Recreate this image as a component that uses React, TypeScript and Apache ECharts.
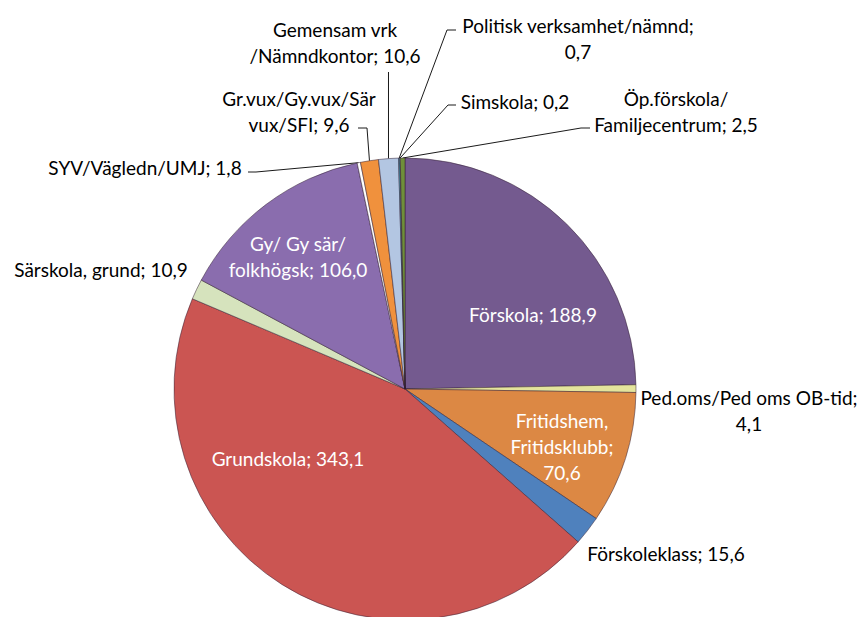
import React, { useEffect, useRef } from "react";
import * as echarts from "echarts";

const categories = [
  "Förskola",
  "Ped.oms/Ped oms OB-tid",
  "Fritidshem, Fritidsklubb",
  "Förskoleklass",
  "Grundskola",
  "Särskola, grund",
  "Gy/ Gy sär/ folkhögsk",
  "SYV/Vägledn/UMJ",
  "Gr.vux/Gy.vux/Sär vux/SFI",
  "Gemensam vrk /Nämndkontor",
  "Politisk verksamhet/nämnd",
  "Simskola",
  "Öp.förskola/ Familjecentrum",
];

const values = [188.9, 4.1, 70.6, 15.6, 343.1, 10.9, 106.0, 1.8, 9.6, 10.6, 0.7, 0.2, 2.5];

// label text as wrapped in the reference
const wrappedNames = [
  "Förskola",
  "Ped.oms/Ped oms OB-tid;\n",
  "Fritidshem,\nFritidsklubb;\n",
  "Förskoleklass",
  "Grundskola",
  "Särskola, grund",
  "Gy/ Gy sär/\nfolkhögsk",
  "SYV/Vägledn/UMJ",
  "Gr.vux/Gy.vux/Sär\nvux/SFI",
  "Gemensam vrk\n/Nämndkontor",
  "Politisk verksamhet/nämnd;\n",
  "Simskola",
  "Öp.förskola/\nFamiljecentrum",
];

const colors = [
  "#745a8f",
  "#e4e49c",
  "#dc8844",
  "#4f81bd",
  "#cb5552",
  "#d6e3bd",
  "#8a6dae",
  "#ffffff",
  "#f0913d",
  "#b3c6e2",
  "#4bacc6",
  "#f2f2f2",
  "#6f8f3a",
];

// label placement (style): centre of text block, inside flag, leader line tail points
const placements: { x: number; y: number; inside?: boolean; line?: number[][] }[] = [
  { x: 533, y: 314, inside: true },
  { x: 749, y: 410 },
  { x: 562, y: 446, inside: true },
  { x: 666, y: 553 },
  { x: 288, y: 458, inside: true },
  { x: 101, y: 269 },
  { x: 298, y: 256, inside: true },
  { x: 145, y: 167, line: [[256, 172], [248, 172]] },
  { x: 299, y: 111, line: [[367, 128], [358, 128]] },
  { x: 335, y: 42, line: [[-1, 72], [-1, 72]] },
  { x: 578, y: 38, line: [[447, 30], [456, 30]] },
  { x: 515, y: 101, line: [[448, 105], [456, 105]] },
  { x: 676, y: 111, line: [[581, 128], [590, 128]] },
];

const fmt = (v: number) => v.toFixed(1).replace(".", ",");

export default function App() {
  const ref = useRef<HTMLDivElement>(null);
  useEffect(() => {
    document.body.style.margin = "0";
    const chart = echarts.init(ref.current!, undefined, { renderer: "svg" });
    const data = categories.map((name, i) => {
      const p = placements[i];
      return {
        name,
        value: values[i],
        itemStyle: { color: colors[i] },
        label: {
          position: p.inside ? "inside" : "outside",
          color: p.inside ? "#ffffff" : "#000000",
        },
        labelLine: { show: !!p.line },
      };
    });
    chart.setOption({
      animation: false,
      backgroundColor: "#ffffff",
      series: [
        {
          type: "pie",
          center: [405, 389],
          radius: 231,
          startAngle: 90,
          clockwise: true,
          avoidLabelOverlap: false,
          minAngle: 0,
          data,
          itemStyle: {
            borderColor: "rgba(50,30,50,0.5)",
            borderWidth: 1,
          },
          label: {
            fontFamily: "Lato",
            fontSize: 19,
            lineHeight: 26,
            align: "center",
            formatter: (params: any) => {
              const i = params.dataIndex;
              const w = wrappedNames[i];
              const v = fmt(values[i]);
              return w.endsWith("\n") ? w + v : w + "; " + v;
            },
          },
          labelLine: {
            lineStyle: { color: "#1a1a1a", width: 1 },
            smooth: false,
          },
          labelLayout: (params: any) => {
            const i = params.dataIndex;
            const p = placements[i];
            const out: any = { x: p.x, y: p.y, align: "center", verticalAlign: "middle" };
            if (p.line && params.labelLinePoints) {
              const s = params.labelLinePoints[0];
              out.labelLinePoints = [
                [s[0], s[1]],
                ...p.line.map((pt) => [pt[0] < 0 ? s[0] : pt[0], pt[1]]),
              ];
            }
            return out;
          },
        },
      ],
    });
    return () => chart.dispose();
  }, []);
  return (
    <div
      ref={ref}
      style={{ position: "absolute", left: 0, top: 0, width: 864, height: 617 }}
    />
  );
}
